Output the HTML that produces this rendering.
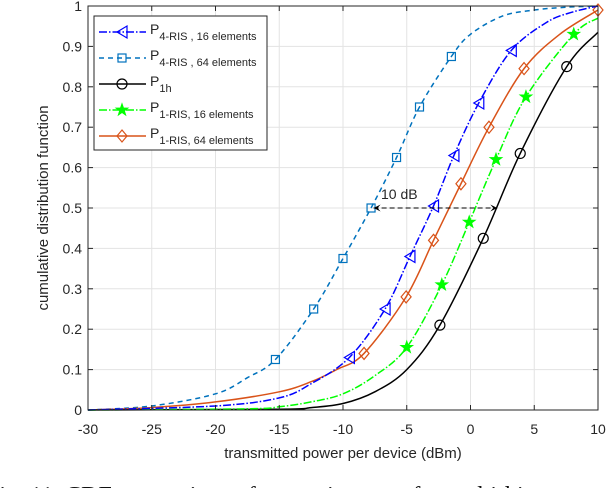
<!DOCTYPE html>
<html><head><meta charset="utf-8"><style>
body{margin:0;background:#fff;width:614px;height:488px;overflow:hidden;position:relative}
svg{position:absolute;left:0;top:0}
text{font-family:"Liberation Sans",sans-serif;fill:#262626}
</style></head><body>
<svg id="c" width="614" height="488"></svg>
<script>
const xTicks=[-30,-25,-20,-15,-10,-5,0,5,10];
const yTicks=[0,0.1,0.2,0.3,0.4,0.5,0.6,0.7,0.8,0.9,1];
const yTickLabels=["0","0.1","0.2","0.3","0.4","0.5","0.6","0.7","0.8","0.9","1"];
const s4r64X=[-30,-25,-20,-17.5,-15.3,-12.3,-10,-7.8,-5.8,-4,-1.5,0,2.5,5,7.5,10];
const s4r64Y=[0,0.01,0.04,0.08,0.125,0.25,0.375,0.5,0.625,0.75,0.875,0.93,0.975,0.99,0.997,1];
const s4r64M=[0,0,0,0,1,1,1,1,1,1,1,0,0,0,0,0];
const s4r16X=[-30,-20,-15,-12.5,-9.5,-6.7,-4.75,-2.9,-1.3,0.65,3.2,6,8,10];
const s4r16Y=[0,0.01,0.03,0.065,0.13,0.25,0.38,0.505,0.63,0.76,0.89,0.96,0.985,1];
const s4r16M=[0,0,0,0,1,1,1,1,1,1,1,0,0,0];
const s1hX=[-30,-15,-12.5,-10,-7.5,-5,-2.4,1,3.9,7.55,10];
const s1hY=[0,0.002,0.006,0.016,0.045,0.1,0.21,0.425,0.635,0.85,0.935];
const s1hM=[0,0,0,0,0,0,1,1,1,1,0];
const s1r16X=[-30,-17.5,-15,-12.5,-10,-7.5,-5,-2.25,-0.1,2,4.35,8.1,10];
const s1r16Y=[0,0.003,0.008,0.02,0.04,0.085,0.155,0.31,0.465,0.62,0.775,0.93,0.97];
const s1r16M=[0,0,0,0,0,0,1,1,1,1,1,1,0];
const s1r64X=[-30,-25,-20,-15,-12.5,-10.5,-8.35,-5.05,-2.9,-0.75,1.45,4.2,7,10];
const s1r64Y=[0,0.006,0.02,0.045,0.07,0.1,0.14,0.28,0.42,0.56,0.70,0.845,0.93,0.99];
const s1r64M=[0,0,0,0,0,0,1,1,1,1,1,1,0,1];

const L=88,R=598,T=6,B=410;
const sx=v=>L+(v+30)/40*(R-L), sy=v=>B-v*(B-T);
const NS="http://www.w3.org/2000/svg", svg=document.getElementById('c');
function el(t,a,p){const e=document.createElementNS(NS,t);for(const k in a)e.setAttribute(k,a[k]);(p||svg).appendChild(e);return e;}
el('rect',{x:L,y:T,width:R-L,height:B-T,fill:'#fff'});
xTicks.forEach(v=>{const g=el('line',{x1:sx(v),x2:sx(v),y1:T,y2:B,stroke:'#e3e3e3','stroke-width':1});
});
yTicks.forEach(v=>{const g=el('line',{x1:L,x2:R,y1:sy(v),y2:sy(v),stroke:'#e3e3e3','stroke-width':1});
});
function path(xs,ys){const p=xs.map((x,i)=>[sx(x),sy(ys[i])]);let d='M'+p[0][0]+','+p[0][1];
for(let i=0;i<p.length-1;i++){const a=p[Math.max(0,i-1)],b=p[i],c=p[i+1],e=p[Math.min(p.length-1,i+2)];
d+=' C'+(b[0]+(c[0]-a[0])/6)+','+(b[1]+(c[1]-a[1])/6)+' '+(c[0]-(e[0]-b[0])/6)+','+(c[1]-(e[1]-b[1])/6)+' '+c[0]+','+c[1];}return d;}
function marker(type,x,y,col,g){
 if(type==='tri')return el('path',{d:`M${x-5},${y} L${x+5},${y-6} L${x+5},${y+6} Z`,fill:'none',stroke:col,'stroke-width':1.2},g);
 if(type==='sq')return el('rect',{x:x-4,y:y-4,width:8,height:8,fill:'none',stroke:col,'stroke-width':1.2},g);
 if(type==='circ')return el('circle',{cx:x,cy:y,r:5,fill:'none',stroke:col,'stroke-width':1.2},g);
 if(type==='dia')return el('path',{d:`M${x},${y-6} L${x+5},${y} L${x},${y+6} L${x-5},${y} Z`,fill:'none',stroke:col,'stroke-width':1.2},g);
 if(type==='star'){let d='';for(let i=0;i<10;i++){const r=i%2?2.6:6.5,a=-Math.PI/2+i*Math.PI/5;d+=(i?'L':'M')+(x+r*Math.cos(a))+','+(y+r*Math.sin(a));}
  return el('path',{d:d+'Z',fill:col,stroke:col,'stroke-width':0.8},g);}
}
const series=[
 {n:'series-4ris-64',x:s4r64X,y:s4r64Y,m:s4r64M,c:'#0072bd',dash:'5,4',mk:'sq'},
 {n:'series-1ris-64',x:s1r64X,y:s1r64Y,m:s1r64M,c:'#d95319',dash:'',mk:'dia'},
 {n:'series-1h',x:s1hX,y:s1hY,m:s1hM,c:'#000000',dash:'',mk:'circ'},
 {n:'series-1ris-16',x:s1r16X,y:s1r16Y,m:s1r16M,c:'#00ff00',dash:'8,2,1.5,2',mk:'star'},
 {n:'series-4ris-16',x:s4r16X,y:s4r16Y,m:s4r16M,c:'#0000ff',dash:'8,2,1.5,2',mk:'tri'}];
series.forEach(s=>{const g=el('g',{});
 
 const p=el('path',{d:path(s.x,s.y),fill:'none',stroke:s.c,'stroke-width':1.5,'stroke-dasharray':s.dash},g);
 
 s.x.forEach((x,i)=>{if(s.m[i]){const m=marker(s.mk,sx(x),sy(s.y[i]),s.c,g);
  }});});
const ay=sy(0.5);
el('line',{x1:sx(-7.6),x2:sx(2.1),y1:ay,y2:ay,stroke:'#000','stroke-width':1,'stroke-dasharray':'5,3'});
el('path',{d:`M${sx(-7.6)},${ay} l7,-3.5 l-3,3.5 l3,3.5 Z`,fill:'#000'});
el('path',{d:`M${sx(2.1)},${ay} l-7,-3.5 l3,3.5 l-3,3.5 Z`,fill:'#000'});
const at=el('text',{x:381,y:199,'font-size':14});at.textContent='10 dB';

el('rect',{x:L,y:T,width:R-L,height:B-T,fill:'none',stroke:'#262626','stroke-width':1});
xTicks.forEach(v=>{el('line',{x1:sx(v),x2:sx(v),y1:B,y2:B-5,stroke:'#262626'});el('line',{x1:sx(v),x2:sx(v),y1:T,y2:T+5,stroke:'#262626'});
 const t=el('text',{x:sx(v),y:B+24,'font-size':14,'text-anchor':'middle'});t.textContent=v;
 });
yTicks.forEach((v,i)=>{el('line',{x1:L,x2:L+5,y1:sy(v),y2:sy(v),stroke:'#262626'});el('line',{x1:R,x2:R-5,y1:sy(v),y2:sy(v),stroke:'#262626'});
 const t=el('text',{x:L-6,y:sy(v)+5,'font-size':14,'text-anchor':'end'});t.textContent=yTickLabels[i];
 });
const xt=el('text',{x:343,y:458,'font-size':15,'text-anchor':'middle'});xt.textContent='transmitted power per device (dBm)';

const yt=el('text',{x:0,y:0,'font-size':15,'text-anchor':'middle',transform:`translate(48,${(T+B)/2}) rotate(-90)`});yt.textContent='cumulative distribution function';

const lg=el('g',{});
el('rect',{x:94,y:16,width:173,height:134,fill:'#fff',stroke:'#262626','stroke-width':1},lg);
const leg=[['4-RIS , 16 elements',4],['4-RIS , 64 elements',0],['1h',2],['1-RIS, 16 elements',3],['1-RIS, 64 elements',1]];
leg.forEach((e,i)=>{const s=series[e[1]],y=32+i*26;const g=el('g',{},lg);
 
 el('line',{x1:99,x2:146,y1:y,y2:y,stroke:s.c,'stroke-width':1.4,'stroke-dasharray':s.dash},g);
 marker(s.mk,122,y,s.c,g);
 const t=el('text',{x:150,y:y+2,'font-size':14},g);t.textContent='P';
 const sub=el('tspan',{dy:6,'font-size':11},t);sub.textContent=e[0];});
const cp=el('text',{x:-14,y:503,'font-size':24});cp.setAttribute('style','font-family:"Liberation Serif",serif;fill:#111');
cp.textContent='Fig. 11.  CDF comparison of transmit power for multi-hi';

</script>
</body></html>
